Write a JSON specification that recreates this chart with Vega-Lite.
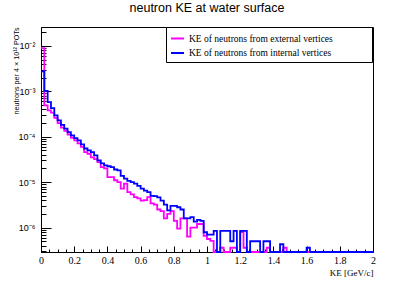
{
  "$schema": "https://vega.github.io/schema/vega-lite/v6.json",
  "width": 332,
  "height": 225,
  "autosize": {"type": "none"},
  "padding": {"left": 41, "top": 27, "right": 42, "bottom": 29},
  "background": "white",
  "title": {"text": "neutron KE at water surface", "font": "Liberation Sans", "fontSize": 12.5, "fontWeight": "normal", "color": "black", "anchor": "middle", "baseline": "alphabetic", "offset": 2.5},
  "config": {"view": {"stroke": "black", "strokeWidth": 1}},
  "data": {"values": [
    {"ke": 0, "ext": 8.9e-3, "int": 2.75e-3},
    {"ke": 0.02, "ext": 4.9e-4, "int": 1.02e-3},
    {"ke": 0.04, "ext": 3.8e-4, "int": 5.75e-4},
    {"ke": 0.06, "ext": 3.4e-4, "int": 4.27e-4},
    {"ke": 0.08, "ext": 2.6e-4, "int": 2.95e-4},
    {"ke": 0.1, "ext": 2.0e-4, "int": 2.29e-4},
    {"ke": 0.12, "ext": 1.58e-4, "int": 1.82e-4},
    {"ke": 0.14, "ext": 1.35e-4, "int": 1.51e-4},
    {"ke": 0.16, "ext": 1.12e-4, "int": 1.26e-4},
    {"ke": 0.18, "ext": 9.5e-5, "int": 1.07e-4},
    {"ke": 0.2, "ext": 8.3e-5, "int": 9.3e-5},
    {"ke": 0.22, "ext": 7.1e-5, "int": 8.3e-5},
    {"ke": 0.24, "ext": 6.0e-5, "int": 6.8e-5},
    {"ke": 0.26, "ext": 4.6e-5, "int": 5.5e-5},
    {"ke": 0.28, "ext": 4.2e-5, "int": 5.0e-5},
    {"ke": 0.3, "ext": 3.5e-5, "int": 4.6e-5},
    {"ke": 0.32, "ext": 3.2e-5, "int": 3.9e-5},
    {"ke": 0.34, "ext": 2.75e-5, "int": 3.0e-5},
    {"ke": 0.36, "ext": 2.14e-5, "int": 2.6e-5},
    {"ke": 0.38, "ext": 2.0e-5, "int": 2.34e-5},
    {"ke": 0.4, "ext": 1.29e-5, "int": 2.24e-5},
    {"ke": 0.42, "ext": 1.29e-5, "int": 2.14e-5},
    {"ke": 0.44, "ext": 1.1e-5, "int": 1.9e-5},
    {"ke": 0.46, "ext": 1.0e-5, "int": 1.82e-5},
    {"ke": 0.48, "ext": 7.2e-6, "int": 1.38e-5},
    {"ke": 0.5, "ext": 9.3e-6, "int": 1.2e-5},
    {"ke": 0.52, "ext": 6.0e-6, "int": 1.07e-5},
    {"ke": 0.54, "ext": 5.4e-6, "int": 1.0e-5},
    {"ke": 0.56, "ext": 4.7e-6, "int": 9.3e-6},
    {"ke": 0.58, "ext": 4.4e-6, "int": 8.3e-6},
    {"ke": 0.6, "ext": 3.9e-6, "int": 7.2e-6},
    {"ke": 0.62, "ext": 4.0e-6, "int": 6.5e-6},
    {"ke": 0.64, "ext": 4.7e-6, "int": 6.0e-6},
    {"ke": 0.66, "ext": 3.4e-6, "int": 5.0e-6},
    {"ke": 0.68, "ext": 3.2e-6, "int": 4.9e-6},
    {"ke": 0.7, "ext": 2.5e-6, "int": 4.6e-6},
    {"ke": 0.72, "ext": 2.3e-6, "int": 3.9e-6},
    {"ke": 0.74, "ext": 1.6e-6, "int": 3.2e-6},
    {"ke": 0.76, "ext": 2.0e-6, "int": 2.4e-6},
    {"ke": 0.78, "ext": 2.3e-6, "int": 3.0e-6},
    {"ke": 0.8, "ext": 1.4e-6, "int": 3.0e-6},
    {"ke": 0.82, "ext": 9.5e-7, "int": 2.8e-6},
    {"ke": 0.84, "ext": 1.6e-6, "int": 2.5e-6},
    {"ke": 0.86, "ext": 1.6e-6, "int": 1.6e-6},
    {"ke": 0.88, "ext": 6.3e-7, "int": 1.6e-6},
    {"ke": 0.9, "ext": 1.0e-6, "int": 1.7e-6},
    {"ke": 0.92, "ext": 1.0e-6, "int": 1.35e-6},
    {"ke": 0.94, "ext": 1.2e-6, "int": 1.48e-6},
    {"ke": 0.96, "ext": 1.2e-6, "int": 1.41e-6},
    {"ke": 0.98, "ext": 6.6e-7, "int": 7.9e-7},
    {"ke": 1.0, "ext": 5.6e-7, "int": 7.0e-7},
    {"ke": 1.02, "ext": 5.1e-7, "int": 7.0e-7},
    {"ke": 1.04, "ext": 0, "int": 8.5e-7},
    {"ke": 1.06, "ext": 0, "int": 0},
    {"ke": 1.08, "ext": 3.6e-7, "int": 8.5e-7},
    {"ke": 1.1, "ext": 0, "int": 8.5e-7},
    {"ke": 1.12, "ext": 0, "int": 8.5e-7},
    {"ke": 1.14, "ext": 3.6e-7, "int": 5.0e-7},
    {"ke": 1.16, "ext": 3.6e-7, "int": 8.5e-7},
    {"ke": 1.18, "ext": 0, "int": 0},
    {"ke": 1.2, "ext": 8.0e-7, "int": 8.5e-7},
    {"ke": 1.22, "ext": 3.6e-7, "int": 8.5e-7},
    {"ke": 1.24, "ext": 0, "int": 0},
    {"ke": 1.26, "ext": 0, "int": 5.0e-7},
    {"ke": 1.28, "ext": 0, "int": 5.0e-7},
    {"ke": 1.3, "ext": 0, "int": 5.0e-7},
    {"ke": 1.32, "ext": 0, "int": 0},
    {"ke": 1.34, "ext": 0, "int": 5.0e-7},
    {"ke": 1.36, "ext": 3.6e-7, "int": 5.0e-7},
    {"ke": 1.38, "ext": 0, "int": 0},
    {"ke": 1.4, "ext": 0, "int": 0},
    {"ke": 1.42, "ext": 0, "int": 0},
    {"ke": 1.44, "ext": 0, "int": 4.3e-7},
    {"ke": 1.46, "ext": 3.6e-7, "int": 0},
    {"ke": 1.48, "ext": 0, "int": 0},
    {"ke": 1.5, "ext": 0, "int": 0},
    {"ke": 1.52, "ext": 0, "int": 0},
    {"ke": 1.54, "ext": 0, "int": 0},
    {"ke": 1.56, "ext": 0, "int": 0},
    {"ke": 1.58, "ext": 0, "int": 0},
    {"ke": 1.6, "ext": 0, "int": 3.6e-7},
    {"ke": 1.62, "ext": 0, "int": 0},
    {"ke": 1.64, "ext": 0, "int": 0},
    {"ke": 1.66, "ext": 0, "int": 0},
    {"ke": 1.68, "ext": 0, "int": 0},
    {"ke": 1.7, "ext": 0, "int": 0},
    {"ke": 1.72, "ext": 0, "int": 0},
    {"ke": 1.74, "ext": 0, "int": 0},
    {"ke": 1.76, "ext": 0, "int": 0},
    {"ke": 1.78, "ext": 0, "int": 0},
    {"ke": 1.8, "ext": 0, "int": 0},
    {"ke": 1.82, "ext": 0, "int": 0},
    {"ke": 1.84, "ext": 0, "int": 0},
    {"ke": 1.86, "ext": 0, "int": 0},
    {"ke": 1.88, "ext": 0, "int": 0},
    {"ke": 1.9, "ext": 0, "int": 0},
    {"ke": 1.92, "ext": 0, "int": 0},
    {"ke": 1.94, "ext": 0, "int": 0},
    {"ke": 1.96, "ext": 0, "int": 0},
    {"ke": 1.98, "ext": 0, "int": 0},
    {"ke": 2.0, "ext": 0, "int": 0}
  ]},
  "transform": [{"fold": ["ext", "int"], "as": ["series", "value"]}],
  "mark": {"type": "line", "interpolate": "step-after", "strokeWidth": 1.8, "invalid": "show"},
  "encoding": {
    "x": {
      "field": "ke", "type": "quantitative",
      "scale": {"domain": [0, 2], "nice": false, "zero": false},
      "axis": {
        "values": [0,0.05,0.1,0.15,0.2,0.25,0.3,0.35,0.4,0.45,0.5,0.55,0.6,0.65,0.7,0.75,0.8,0.85,0.9,0.95,1,1.05,1.1,1.15,1.2,1.25,1.3,1.35,1.4,1.45,1.5,1.55,1.6,1.65,1.7,1.75,1.8,1.85,1.9,1.95,2],
        "labelExpr": "abs(datum.value*5 - round(datum.value*5)) < 0.001 ? format(datum.value, '~g') : ''",
        "tickSize": {"condition": {"test": "abs(datum.value*5 - round(datum.value*5)) < 0.001", "value": -6}, "value": -3},
        "tickColor": "black",
        "domainColor": "black",
        "grid": false,
        "labelFont": "Liberation Serif", "labelFontSize": 10, "labelColor": "black",
        "labelPadding": 9,
        "labelOverlap": false, "labelBound": false, "labelFlush": false,
        "title": "KE [GeV/c]",
        "titleFont": "Liberation Serif", "titleFontSize": 9, "titleFontWeight": "normal", "titleColor": "black",
        "titleAnchor": "end", "titlePadding": 0
      }
    },
    "y": {
      "field": "value", "type": "quantitative",
      "scale": {"type": "log", "domain": [2.9e-7, 0.026], "nice": false, "clamp": true},
      "axis": {
        "values": [3e-7,4e-7,5e-7,6e-7,7e-7,8e-7,9e-7,1e-6,2e-6,3e-6,4e-6,5e-6,6e-6,7e-6,8e-6,9e-6,1e-5,2e-5,3e-5,4e-5,5e-5,6e-5,7e-5,8e-5,9e-5,1e-4,2e-4,3e-4,4e-4,5e-4,6e-4,7e-4,8e-4,9e-4,1e-3,2e-3,3e-3,4e-3,5e-3,6e-3,7e-3,8e-3,9e-3,1e-2,2e-2],
        "labelExpr": "datum.value == 1e-2 ? '10⁻²' : datum.value == 1e-3 ? '10⁻³' : datum.value == 1e-4 ? '10⁻⁴' : datum.value == 1e-5 ? '10⁻⁵' : datum.value == 1e-6 ? '10⁻⁶' : ''",
        "tickSize": {"condition": {"test": "abs(log(datum.value)/LN10 - round(log(datum.value)/LN10)) < 0.001", "value": -10}, "value": -5},
        "tickColor": "black",
        "domainColor": "black",
        "grid": false,
        "labelFont": "Liberation Sans", "labelFontSize": 9, "labelColor": "black",
        "labelPadding": 16,
        "labelOverlap": false, "labelBound": false, "labelFlush": false,
        "title": "neutrons per 4 × 10¹² POTs",
        "titleFont": "Liberation Sans", "titleFontSize": 7.2, "titleFontWeight": "normal", "titleColor": "black",
        "titleAnchor": "end", "titlePadding": -2
      }
    },
    "color": {
      "field": "series", "type": "nominal",
      "scale": {"domain": ["ext", "int"], "range": ["#ff00ff", "#0000ff"]},
      "legend": {
        "orient": "none", "legendX": 125, "legendY": 0,
        "title": null,
        "symbolType": "M-1,0H1M28.6,0Z", "symbolSize": 169, "symbolStrokeWidth": 2,
        "labelFont": "Liberation Serif", "labelFontSize": 9.5, "labelColor": "black",
        "labelOffset": 4, "labelLimit": 0,
        "padding": 4, "rowPadding": 2.5,
        "strokeColor": "black", "fillColor": "white",
        "labelExpr": "datum.value == 'ext' ? 'KE of neutrons from external vertices' : 'KE of neutrons from internal vertices'"
      }
    }
  }
}
